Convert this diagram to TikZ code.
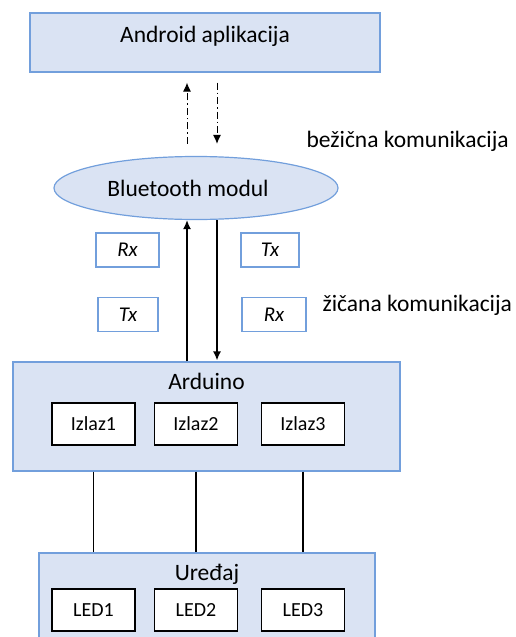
\documentclass[tikz,border=0pt]{standalone}
\usepackage{fontspec}
\setmainfont{Carlito}
\usetikzlibrary{shapes.geometric,arrows.meta}

\definecolor{boxfill}{RGB}{218,227,243}
\definecolor{boxline}{RGB}{114,159,220}

\begin{document}
\begin{tikzpicture}
   [
      x=1pt, y=-1pt,
      >={Latex[length=9pt,width=8pt]},
      font=\fontsize{23.5}{28}\selectfont,
      block/.style={rectangle, draw=boxline, fill=boxfill, line width=1.2pt,
      inner sep=0pt},
      pin/.style={rectangle, draw=boxline, fill=white, line width=1.2pt,
      inner sep=0pt, minimum height=34pt, font=\fontsize{21}{24}\selectfont\itshape},
      item/.style={rectangle, draw, fill=white, line width=1.2pt, inner sep=0pt,
      minimum width=83pt, minimum height=42pt, font=\fontsize{20}{24}\selectfont},
      wireless/.style={line width=1pt, dash pattern=on 7pt off 3pt on 1.5pt off 3pt},
      wire/.style={line width=1.4pt}
   ]
   \clip (0,0) rectangle (515,637);

   \node[block, minimum width=350pt, minimum height=59pt,
      label={[anchor=north, yshift=-10pt]north:Android aplikacija}]
      (android) at (205,42.5) {};
   \node[ellipse, draw=boxline, fill=boxfill, line width=1.2pt,
      minimum width=284pt, minimum height=63pt] (bt) at (196,188)
      {\hbox{Bluetooth modul}\kern16pt};

   \node[pin, minimum width=63pt] (rx1) at (127.5,250) {Rx};
   \node[pin, minimum width=58pt] (tx1) at (270,250) {Tx};
   \node[pin, minimum width=60pt] (tx2) at (128,314.5) {Tx};
   \node[pin, minimum width=64pt] (rx2) at (274,314.5) {Rx};

   \node[anchor=west] (wless) at (303,141) {bežična komunikacija};
   \node[anchor=west] (wired) at (319,305) {žičana komunikacija};

   \node[block, minimum width=387pt, minimum height=109pt,
      label={[anchor=north, yshift=-8pt]north:Arduino}]
      (ard) at (206.5,416.5) {};
   \node[block, minimum width=336pt, minimum height=100pt,
      label={[anchor=north, yshift=-8pt]north:Uređaj}]
      (dev) at (207,603) {};

   \foreach \i/\x in {1/93.5,2/196,3/303} {
      \node[item] (izlaz\i) at (\x,424) {Izlaz\i};
      \node[item] (led\i) at (\x,610) {LED\i};
      \draw[wire] (izlaz\i |- ard.south) -- (izlaz\i |- dev.north);
   }

   % bluetooth <-> phone
   \draw[wireless,->] ([xshift=-9pt,yshift=12pt]bt.north)
      -- ([xshift=-9pt,yshift=-10pt]bt.north |- android.south);
   \draw[wireless,->] ([xshift=21pt,yshift=-10pt]bt.north |- android.south)
      -- ([xshift=21pt,yshift=12pt]bt.north);

   % arduino <-> bluetooth
   \draw[wire,->] ([xshift=-9pt]bt.south |- ard.north) -- ([xshift=-9pt]bt.south);
   \draw[wire,->] ([xshift=21pt]bt.south) -- ([xshift=21pt,yshift=1pt]bt.south |- ard.north);
\end{tikzpicture}
\end{document}
